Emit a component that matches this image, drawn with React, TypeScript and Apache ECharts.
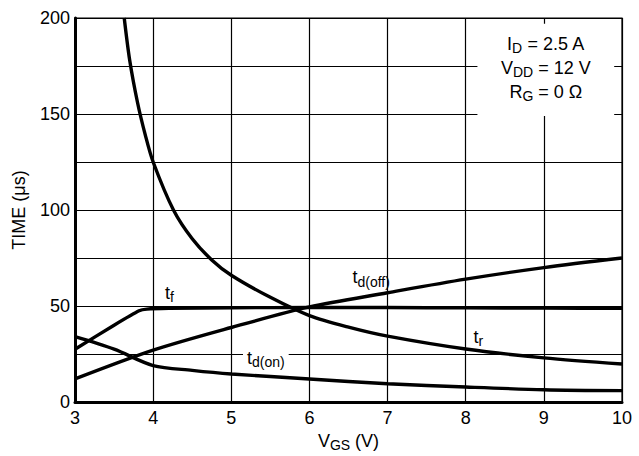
import React, { useEffect, useRef } from "react";
import * as echarts from "echarts";

const xTicks = [3, 4, 5, 6, 7, 8, 9, 10];
const yTickLabels = [0, 50, 100, 150, 200];

const trX = [3.63, 3.7, 3.8, 3.9, 4.0, 4.26, 4.5, 4.75, 5.0, 5.5, 6.0, 6.5, 7.0, 8.0, 9.0, 10.0];
const trY = [200, 178, 156, 139, 125, 100, 85, 74, 66, 54.5, 45, 39, 34.3, 27.6, 23, 19.8];

const tfX = [3.0, 3.5, 3.82, 3.92, 4.2, 5.0, 6.0, 7.0, 8.0, 9.0, 10.0];
const tfY = [27.5, 40, 47.5, 48.4, 48.8, 49.1, 49.2, 49.2, 49.0, 48.9, 48.8];

const tdoffX = [3.0, 4.0, 5.0, 6.0, 7.0, 8.0, 9.0, 10.0];
const tdoffY = [12, 27, 38.8, 49.5, 56.9, 64, 70, 75];

const tdonX = [3.0, 3.5, 4.0, 4.5, 5.0, 6.0, 7.0, 8.0, 9.0, 10.0];
const tdonY = [34, 27.5, 19, 16.5, 14.6, 12, 9.5, 7.8, 6.4, 5.9];

const FONT = "'Liberation Sans', Arial, Helvetica, sans-serif";

const pairs = (xs: number[], ys: number[]) => xs.map((x, i) => [x, ys[i]]);

export default function App() {
  const ref = useRef<HTMLDivElement>(null);
  useEffect(() => {
    if (!ref.current) return;
    const chart = echarts.init(ref.current, null, { renderer: "svg" });
    const lineStyle = { color: "#000", width: 3.4 };
    const rich = {
      b: { fontSize: 18, fontFamily: FONT, color: "#000" },
      s: { fontSize: 14, fontFamily: FONT, color: "#000", padding: [9, 0, 0, 0] },
    };
    chart.setOption({
      animation: false,
      grid: {
        left: 75,
        top: 18,
        right: 17,
        bottom: 54,
        show: true,
        borderColor: "#000",
        borderWidth: 1.2,
        containLabel: false,
        outerBoundsMode: "none",
      },
      xAxis: {
        type: "value",
        min: 3,
        max: 10,
        interval: 1,
        axisLine: { show: true, onZero: false, lineStyle: { color: "#000", width: 3 } },
        axisTick: { show: false },
        splitLine: { show: true, lineStyle: { color: "#000", width: 1.2 } },
        axisLabel: { color: "#000", fontSize: 18, fontFamily: FONT, margin: 7, formatter: (v: number) => (xTicks.includes(v) ? String(v) : "") },
        name: "{b|V}{s|GS}{b| (V)}",
        nameLocation: "middle",
        nameGap: 25,
        nameTextStyle: { rich },
      },
      yAxis: {
        type: "value",
        min: 0,
        max: 200,
        interval: 25,
        axisLine: { show: true, onZero: false, lineStyle: { color: "#000", width: 3 } },
        axisTick: { show: false },
        splitLine: { show: true, lineStyle: { color: "#000", width: 1.2 } },
        axisLabel: { color: "#000", fontSize: 18, fontFamily: FONT, margin: 5, formatter: (v: number) => (yTickLabels.includes(v) ? String(v) : "") },
        name: "TIME (μs)",
        nameLocation: "middle",
        nameGap: 47,
        nameTextStyle: { color: "#000", fontSize: 18, fontFamily: FONT },
      },
      series: [
        { type: "line", data: pairs(trX, trY), smooth: 0.3, symbol: "none", lineStyle },
        { type: "line", data: pairs(tfX, tfY), smooth: 0.2, symbol: "none", lineStyle },
        { type: "line", data: pairs(tdoffX, tdoffY), smooth: 0.3, symbol: "none", lineStyle },
        { type: "line", data: pairs(tdonX, tdonY), smooth: 0.3, symbol: "none", lineStyle },
      ],
    });

    const labels = [
      { at: [4.1, 57], text: "{b|t}{s|f}", bg: false },
      { at: [6.5, 65], text: "{b|t}{s|d(off)}", bg: false },
      { at: [8.05, 34], text: "{b|t}{s|r}", bg: false },
      { at: [5.15, 23], text: "{b|t}{s|d(on)}", bg: true },
    ];
    const graphics: any[] = labels.map((l) => {
      const p = chart.convertToPixel({ gridIndex: 0 }, l.at) as number[];
      return {
        type: "text",
        x: p[0],
        y: p[1],
        z: 100,
        style: {
          text: l.text,
          rich,
          align: "left",
          verticalAlign: "middle",
          backgroundColor: l.bg ? "#fff" : "transparent",
          padding: [0, 4, 0, 4],
        },
      };
    });
    const tl = chart.convertToPixel({ gridIndex: 0 }, [8.15, 197]) as number[];
    const br = chart.convertToPixel({ gridIndex: 0 }, [9.9, 149]) as number[];
    graphics.push({
      type: "rect",
      z: 90,
      shape: { x: tl[0], y: tl[1], width: br[0] - tl[0], height: br[1] - tl[1] },
      style: { fill: "#fff" },
    });
    const cx = (tl[0] + br[0]) / 2;
    const lines = ["{b|I}{s|D}{b| = 2.5 A}", "{b|V}{s|DD}{b| = 12 V}", "{b|R}{s|G}{b| = 0 Ω}"];
    lines.forEach((t, i) => {
      graphics.push({
        type: "text",
        z: 100,
        x: cx,
        y: tl[1] + 20 + i * 24,
        style: { text: t, rich, align: "center", verticalAlign: "middle" },
      });
    });
    chart.setOption({ graphic: graphics });
    return () => chart.dispose();
  }, []);
  return <div ref={ref} style={{ width: 639, height: 456, position: "absolute", left: 0, top: 0 }} />;
}
